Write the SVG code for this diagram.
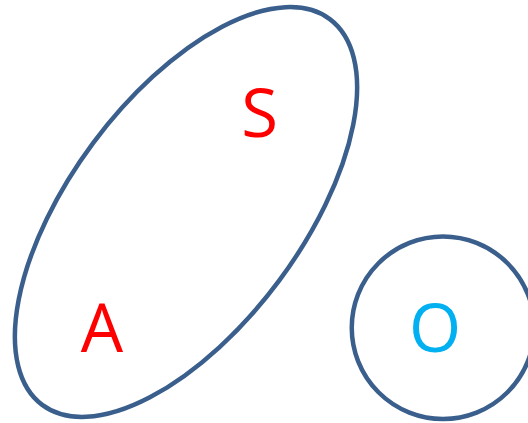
<svg xmlns="http://www.w3.org/2000/svg" width="528" height="423" viewBox="0 0 528 423">
<style>
.set{fill:none;stroke:#3A5F8C;stroke-width:4.5}
.lbl{font-family:"Open Sans","Liberation Sans",sans-serif;font-size:67px;text-anchor:middle}
.red{fill:#FF0000}
.blue{fill:#00B0F0}
</style>
<rect width="528" height="423" fill="#fff"/>
<g id="set-AS">
<ellipse class="set" cx="186" cy="212" rx="240.6" ry="115.7" transform="rotate(-53.3 186 212)"/>
</g>
<g id="set-O">
<circle class="set" cx="443" cy="327.75" r="91.25"/>
</g>
<g id="node-S"><text class="lbl red" x="259.5" y="137">S</text></g>
<g id="node-A"><text class="lbl red" x="102" y="352">A</text></g>
<g id="node-O"><text class="lbl blue" x="435" y="352">O</text></g>
<g id="connectors"></g>
</svg>
